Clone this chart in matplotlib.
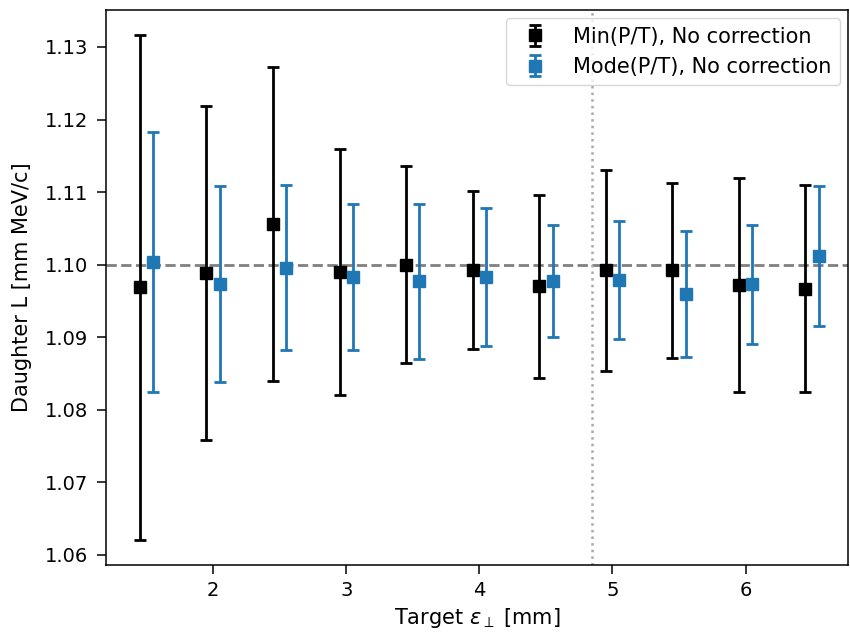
import matplotlib
matplotlib.use("Agg")
import matplotlib.pyplot as plt
import numpy as np

target = np.array([1.5, 2.0, 2.5, 3.0, 3.5, 4.0, 4.5, 5.0, 5.5, 6.0, 6.5])
min_vals = [1.0969, 1.0988, 1.1056, 1.0990, 1.1000, 1.0993, 1.0970, 1.0992, 1.0992, 1.0972, 1.0967]
min_errs = [0.0348, 0.0230, 0.0217, 0.0169, 0.0136, 0.0109, 0.0126, 0.0139, 0.0120, 0.0148, 0.0143]
mode_vals = [1.1004, 1.0973, 1.0996, 1.0983, 1.0977, 1.0983, 1.0977, 1.0979, 1.0960, 1.0973, 1.1012]
mode_errs = [0.0179, 0.0135, 0.0114, 0.0100, 0.0107, 0.0095, 0.0077, 0.0081, 0.0087, 0.0082, 0.0096]
offset = 0.05
reference_L = 1.10
threshold = 4.85

fig = plt.figure(figsize=(8.5, 6.32), dpi=100)
ax = fig.add_axes([106/850, 1 - 565/632, (848-106)/850, (565-10)/632])
for s in ax.spines.values():
    s.set_linewidth(1.1)

ax.errorbar(target - offset, min_vals, yerr=min_errs, fmt='s', color='black',
            markersize=8, capsize=4, elinewidth=2.0, capthick=2.0,
            label='Min(P/T), No correction')
ax.errorbar(target + offset, mode_vals, yerr=mode_errs, fmt='s', color='#1f77b4',
            markersize=8, capsize=4, elinewidth=2.0, capthick=2.0,
            label='Mode(P/T), No correction')
ax.axhline(reference_L, color='gray', linestyle='--', linewidth=2.0, zorder=0)
ax.axvline(threshold, color='darkgray', linestyle=':', linewidth=1.8, zorder=0)

ax.set_xlim(1.195, 6.77)
ax.set_ylim(1.0586, 1.1351)
ax.set_xticks([2, 3, 4, 5, 6])
ax.set_yticks([1.06, 1.07, 1.08, 1.09, 1.10, 1.11, 1.12, 1.13])
ax.set_yticklabels(['1.06', '1.07', '1.08', '1.09', '1.10', '1.11', '1.12', '1.13'])
ax.tick_params(labelsize=14, length=6.5, width=1.1, pad=5)
ax.tick_params(axis='y', pad=6.5)
ax.set_xlabel(r'Target $\epsilon_\perp$ [mm]', fontsize=15)
ax.set_ylabel('Daughter L [mm MeV/c]', fontsize=15, labelpad=9)
ax.legend(loc='upper right', fontsize=15, borderaxespad=0.4)

fig.savefig('out.png', dpi=100)
